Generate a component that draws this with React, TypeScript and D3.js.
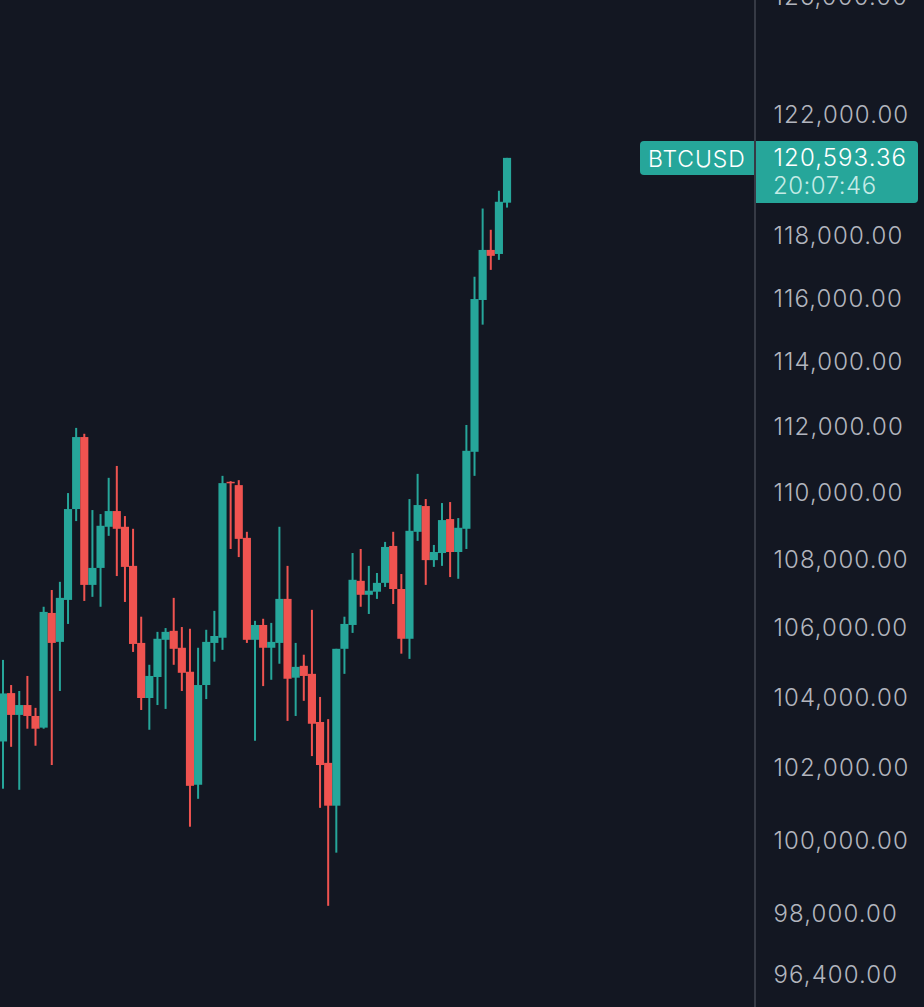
import React from 'react';
import * as d3 from 'd3';

// BTCUSD daily candles, oldest first
const opens = [
  102710, 104080, 103460, 103740, 103430, 103100, 106390, 105550, 106770, 109460,
  111640, 107210, 107710, 108930, 109400, 108930, 107770, 105520, 103940, 104540,
  105610, 105870, 105380, 104690, 101500, 104310, 105520, 105670, 110280, 110180,
  108600, 105610, 106040, 105380, 105520, 106800, 104520, 104860, 104630, 103260,
  102110, 100920, 105350, 106040, 107330, 106920, 107010, 107270, 108360, 107090,
  105640, 108780, 109550, 107940, 108150, 109160, 108180, 108870, 111190, 115910,
  117510, 117380, 119040,
];
const highs = [
  105030, 104310, 104140, 104570, 103660, 106570, 107060, 107300, 109940, 111920,
  111740, 109430, 109310, 110400, 110760, 109250, 108870, 106280, 104890, 105840,
  105950, 106830, 105980, 105930, 105380, 105900, 106450, 110460, 110300, 110330,
  108780, 106160, 106220, 106100, 108930, 107770, 105520, 105180, 106480, 103970,
  103340, 105350, 106280, 108150, 108270, 107770, 107560, 108480, 108780, 107530,
  109760, 110520, 109760, 108390, 109640, 109670, 109190, 112010, 116650, 118850,
  118160, 119430, 120510,
];
const lows = [
  101390, 102560, 101360, 103070, 102590, 103070, 102050, 104140, 106070, 109100,
  106740, 106860, 106570, 108660, 107470, 106710, 105260, 103600, 103040, 103740,
  103630, 104890, 104140, 100340, 101110, 103910, 104980, 105320, 108270, 108030,
  105520, 102730, 104280, 104460, 104920, 103290, 103430, 103860, 102300, 100860,
  98190, 99630, 104630, 105810, 106570, 106360, 106800, 107150, 106650, 105210,
  105060, 108510, 107210, 107740, 107770, 107440, 107390, 108270, 110460, 115130,
  116870, 117190, 118880,
];
const closes = [
  104070, 103460, 103740, 103430, 103070, 106420, 105520, 106830, 109460, 111640,
  107210, 107710, 108960, 109400, 108870, 107740, 105490, 103940, 104570, 105640,
  105840, 105350, 104660, 101470, 104310, 105550, 105720, 110240, 110240, 108570,
  105610, 106040, 105380, 105550, 106800, 104490, 104830, 104570, 103210, 102050,
  100920, 105350, 106070, 107360, 106920, 107040, 107270, 108330, 107090, 105640,
  108810, 109580, 107940, 108180, 109130, 108180, 108900, 111220, 115940, 117510,
  117320, 119070, 120510,
];

const priceTicks = [
  126000, 122000, 118000, 116000, 114000, 112000, 110000, 108000, 106000, 104000,
  102000, 100000, 98000, 96400,
];

const symbol = 'BTCUSD';
const lastPriceLabel = '120,593.36';
const countdown = '20:07:46';

const width = 924;
const height = 1007;
const axisX = 755;

const bg = '#131722';
const up = '#26a69a';
const down = '#ef5350';
const font = 'Inter, "Noto Sans", sans-serif';

const x = d3
  .scaleBand<number>()
  .domain(d3.range(opens.length))
  .range([-1.07, 511.1])
  .padding(0);

const y = d3.scaleLog().domain([96400, 122000]).range([973, 113]);

const fmt = d3.format(',.2f');

export default function App() {
  const bw = x.bandwidth();
  return (
    <svg
      width={width}
      height={height}
      viewBox={`0 0 ${width} ${height}`}
      style={{ position: 'absolute', left: 0, top: 0, display: 'block' }}
    >
      <rect width={width} height={height} fill={bg} />

      {opens.map((o, i) => {
        const c = closes[i];
        const color = c > o || (i > 0 && c === o) ? up : down;
        const left = x(i) as number;
        const top = y(Math.max(o, c));
        const bottom = y(Math.min(o, c));
        return (
          <g key={i} fill={color}>
            <rect x={left + bw / 2 - 1} y={y(highs[i])} width={2} height={y(lows[i]) - y(highs[i])} />
            <rect x={left} y={top} width={bw} height={Math.max(bottom - top, 1.5)} />
          </g>
        );
      })}

      <line x1={axisX} x2={axisX} y1={0} y2={height} stroke="#363a45" strokeWidth={2} />

      {priceTicks.map((t) => (
        <text
          key={t}
          x={773.5}
          y={y(t)}
          dy="0.4em"
          fill="#b2b5be"
          fontFamily={font}
          fontSize={24}
          fontWeight={300}
          letterSpacing={1.1}
        >
          {fmt(t)}
        </text>
      ))}

      <path d="M754,141 H644 a4,4 0 0 0 -4,4 V171 a4,4 0 0 0 4,4 H754 Z" fill={up} />
      <text x={648} y={158} dy="0.38em" fill="#ffffff" fontFamily={font} fontSize={23} fontWeight={300} letterSpacing={0.9}>
        {symbol}
      </text>

      <path d="M756,141 H914 a4,4 0 0 1 4,4 V199 a4,4 0 0 1 -4,4 H756 Z" fill={up} />
      <text x={773.5} y={157} dy="0.38em" fill="#ffffff" fontFamily={font} fontSize={24} fontWeight={300} letterSpacing={1.1}>
        {lastPriceLabel}
      </text>
      <text x={773} y={185} dy="0.38em" fill="#c4ebe6" fontFamily={font} fontSize={24} fontWeight={300} letterSpacing={0.5}>
        {countdown}
      </text>
    </svg>
  );
}
